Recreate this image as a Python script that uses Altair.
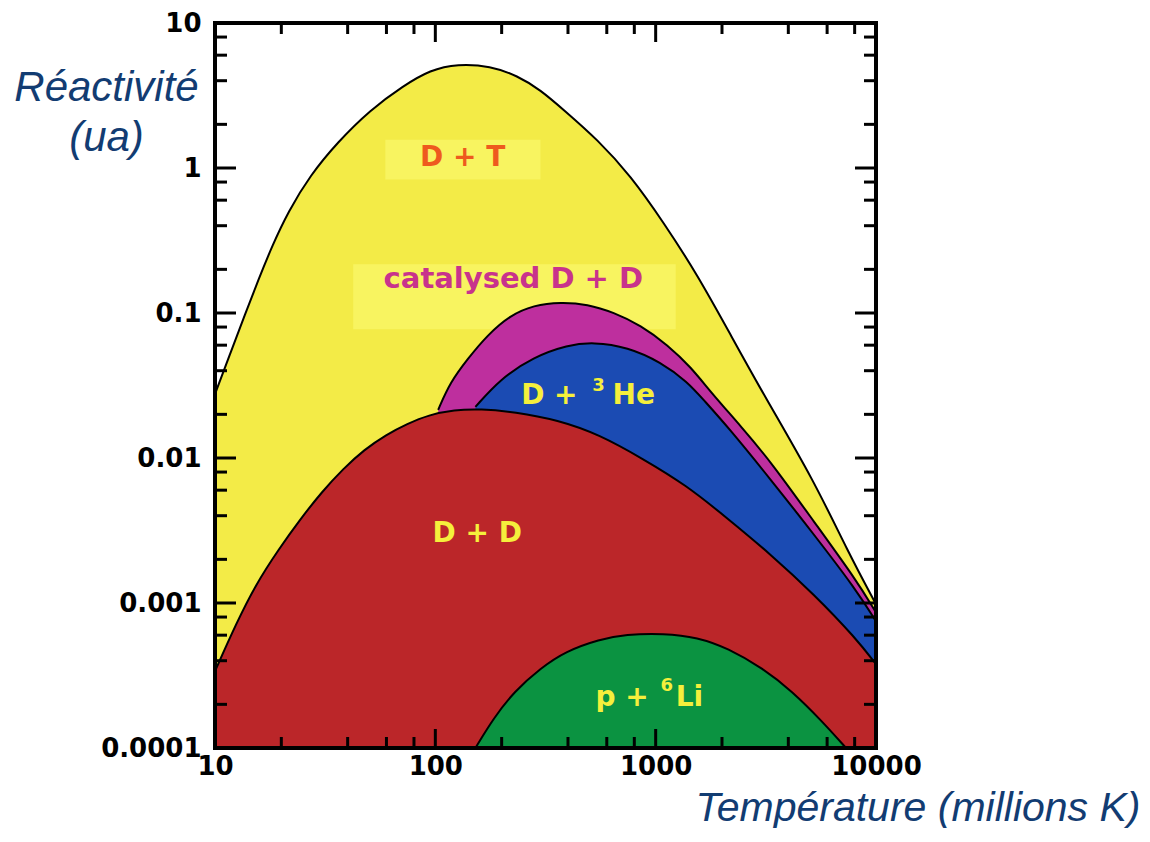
import altair as alt
import pandas as pd

# ---------------- data ----------------
# D + T (yellow)
dt_temp = [10, 11.7, 13.7, 15.7, 18.2, 21.5, 27.0, 35.9, 50.7, 71.6, 94.9, 126, 178,
           236, 300, 382, 545, 769, 1087, 1552, 2193, 3097, 5227, 7464, 10000]
dt_react = [0.0276, 0.0521, 0.0982, 0.168, 0.292, 0.501, 0.887, 1.50, 2.52, 3.69, 4.75,
            5.23, 5.06, 4.32, 3.46, 2.52, 1.57, 0.887, 0.421, 0.182, 0.0703, 0.0272, 0.00700,
            0.00225, 0.00098]

# catalysed D + D (magenta)
cat_temp = [103, 117, 140, 172, 219, 279, 370, 491, 644, 855, 1135, 1443, 1778, 2432, 3334,
            5227, 8110, 10000]
cat_react = [0.0215, 0.0334, 0.0481, 0.0703, 0.0966, 0.113, 0.119, 0.115, 0.101, 0.0824,
             0.0601, 0.0424, 0.0285, 0.0166, 0.00942, 0.00364, 0.00145, 0.000861]

# D + 3He (blue)
he_temp = [152, 197, 279, 398, 523, 746, 1054, 1397, 1652, 2125, 3334, 5227, 8110, 10000]
he_react = [0.0225, 0.0351, 0.0497, 0.0601, 0.0630, 0.0582, 0.0459, 0.0334, 0.0251, 0.0164,
            0.00708, 0.00297, 0.00124, 0.000747]

# D + D (red)
dd_temp = [10, 12.46, 15.3, 19.5, 24.3, 30.6, 38.2, 47.5, 59.9, 74.6, 93.0, 122, 160, 229,
           359, 556, 873, 1368, 2125, 3334, 5227, 8110, 10000]
dd_react = [0.000339, 0.000718, 0.00134, 0.00236, 0.00376, 0.00586, 0.00843, 0.0114, 0.0145,
            0.0172, 0.0198, 0.0215, 0.0218, 0.0208, 0.0183, 0.0145, 0.00988, 0.00654, 0.00382,
            0.00216, 0.00115, 0.000571, 0.000378]

# p + 6Li (green)
li_temp = [152, 184, 229, 300, 390, 556, 731, 1087, 1552, 2125, 3061, 4150, 5689, 7311]
li_react = [0.0001, 0.000161, 0.000247, 0.000355, 0.000465, 0.000562, 0.000608, 0.000618,
            0.000580, 0.000488, 0.000355, 0.000247, 0.000153, 0.0001]

x_tick_labels = [10, 100, 1000, 10000]
y_tick_labels = [0.0001, 0.001, 0.01, 0.1, 1, 10]
x_minor = [20, 40, 60, 80, 200, 400, 600, 800, 2000, 4000, 6000, 8000]
x_major = [100, 1000]
y_minor = [m * d for d in [0.0001, 0.001, 0.01, 0.1, 1] for m in [2, 4, 6, 8]]
y_major = [0.001, 0.01, 0.1, 1]

BASE = 0.0001
W, H = 661, 725

XS = alt.Scale(type="log", domain=[10, 10000], nice=False)
YS = alt.Scale(type="log", domain=[0.0001, 10], nice=False)

TITLE_COLOR = "#123c72"
LABEL_FONT = "DejaVu Sans"

XAX = alt.Axis(values=x_tick_labels, format="~g", title="Température (millions K)",
               grid=False, domain=False, ticks=False, tickSize=0, labelFlush=False,
               labelOverlap=False, labelPadding=5, labelFont=LABEL_FONT,
               labelFontWeight="bold", labelFontSize=26, labelColor="black",
               titleFont="Liberation Sans", titleFontSize=41, titleFontStyle="italic",
               titleFontWeight="normal", titleColor=TITLE_COLOR, titleX=925, titleY=72,
               titleAlign="right", titleBaseline="alphabetic")
YAX = alt.Axis(values=y_tick_labels, format="~g", title=["Réactivité", "(ua)"],
               grid=False, domain=False, ticks=False, tickSize=0, labelOverlap=False,
               labelPadding=14, labelFont=LABEL_FONT, labelFontWeight="bold",
               labelFontSize=26, labelColor="black", titleFont="Liberation Sans",
               titleFontSize=42, titleFontStyle="italic", titleFontWeight="normal",
               titleColor=TITLE_COLOR, titleAngle=0, titleX=-109, titleY=77,
               titleAlign="center", titleBaseline="alphabetic", titleLineHeight=50)


def X():
    return alt.X("T:Q", scale=XS, axis=XAX)


def Y():
    return alt.Y("R:Q", scale=YS, axis=YAX)


def area_layers(temps, reacts, color):
    df = pd.DataFrame({"T": temps, "R": reacts, "B": [BASE] * len(temps)})
    base = alt.Chart(df)
    a = base.mark_area(color=color, opacity=1, interpolate="basis").encode(
        x=X(), y=Y(), y2="B:Q")
    l = base.mark_line(color="black", strokeWidth=2, interpolate="basis").encode(
        x=X(), y=Y())
    return [a, l]


def box(t1, t2, r1, r2, color):
    df = pd.DataFrame({"T": [t1], "T2": [t2], "R": [r1], "R2": [r2]})
    return alt.Chart(df).mark_rect(color=color).encode(
        x=X(), x2="T2:Q", y=Y(), y2="R2:Q")


def label(t, r, text, color, size, align="center", dx=0, dy=0):
    df = pd.DataFrame({"T": [t], "R": [r], "txt": [text]})
    return alt.Chart(df).mark_text(color=color, font=LABEL_FONT, fontWeight="bold",
                                   fontSize=size, align=align, baseline="middle",
                                   dx=dx, dy=dy).encode(
        x=X(), y=Y(), text="txt:N")


# each tick side gets its own small table (tagged by side) so that none is merged away
def xticks(vals, length, kind):
    dfb = pd.DataFrame({"T": vals, "side": ["bottom-" + kind] * len(vals)})
    bottom = alt.Chart(dfb).mark_rule(color="black", strokeWidth=3).encode(
        x=X(), y=alt.value(H), y2=alt.value(H - length))
    dft = pd.DataFrame({"T": vals, "side": ["top-" + kind] * len(vals)})
    top = alt.Chart(dft).mark_rule(color="black", strokeWidth=3).encode(
        x=X(), y=alt.value(0), y2=alt.value(length))
    return [bottom, top]


def yticks(vals, length, kind):
    dfl = pd.DataFrame({"R": vals, "side": ["left-" + kind] * len(vals)})
    left = alt.Chart(dfl).mark_rule(color="black", strokeWidth=3).encode(
        y=Y(), x=alt.value(0), x2=alt.value(length))
    dfr = pd.DataFrame({"R": vals, "side": ["right-" + kind] * len(vals)})
    right = alt.Chart(dfr).mark_rule(color="black", strokeWidth=3).encode(
        y=Y(), x=alt.value(W), x2=alt.value(W - length))
    return [left, right]


layers = []
layers += area_layers(dt_temp, dt_react, "#F3EB47")
layers.append(box(59.3, 300, 1.568, 0.832, "#F8F460"))
layers.append(box(42.4, 1233, 0.217, 0.0774, "#F8F460"))
layers += area_layers(cat_temp, cat_react, "#BE2F9E")
layers += area_layers(he_temp, he_react, "#1B4BB3")
layers += area_layers(dd_temp, dd_react, "#BB2629")
layers += area_layers(li_temp, li_react, "#0B9341")

YEL = "#F5EF3C"
layers.append(label(133, 1.18, "D + T", "#EE5A1E", 28))
layers.append(label(226, 0.171, "catalysed D + D", "#C8338C", 29))
layers.append(label(545, 0.0268, "D +", YEL, 28, align="right", dx=-20))
layers.append(label(545, 0.0268, "3", YEL, 18, align="center", dx=1, dy=-10))
layers.append(label(545, 0.0268, "He", YEL, 28, align="left", dx=15))
layers.append(label(155, 0.00301, "D + D", YEL, 28))
layers.append(label(1122, 0.000221, "p +", YEL, 28, align="right", dx=-18))
layers.append(label(1122, 0.000221, "6", YEL, 18, align="center", dy=-12))
layers.append(label(1122, 0.000221, "Li", YEL, 28, align="left", dx=9))

frame = alt.Chart(pd.DataFrame({"T": [10]})).mark_rect(
    fill=None, stroke="black", strokeWidth=4).encode(
    x=alt.value(0), x2=alt.value(W), y=alt.value(0), y2=alt.value(H))
layers.append(frame)

layers += xticks(x_minor, 11, "minor")
layers += xticks(x_major, 19, "major")
layers += yticks(y_minor, 12, "minor")
layers += yticks(y_major, 21, "major")

chart = alt.layer(*layers).properties(
    width=W, height=H,
    autosize=alt.AutoSizeParams(type="none"),
    padding={"left": 207, "top": 15, "right": 266, "bottom": 80},
).configure_view(stroke=None).configure(background="white")

chart.save("out.html", embed_options={"renderer": "svg", "actions": False})
